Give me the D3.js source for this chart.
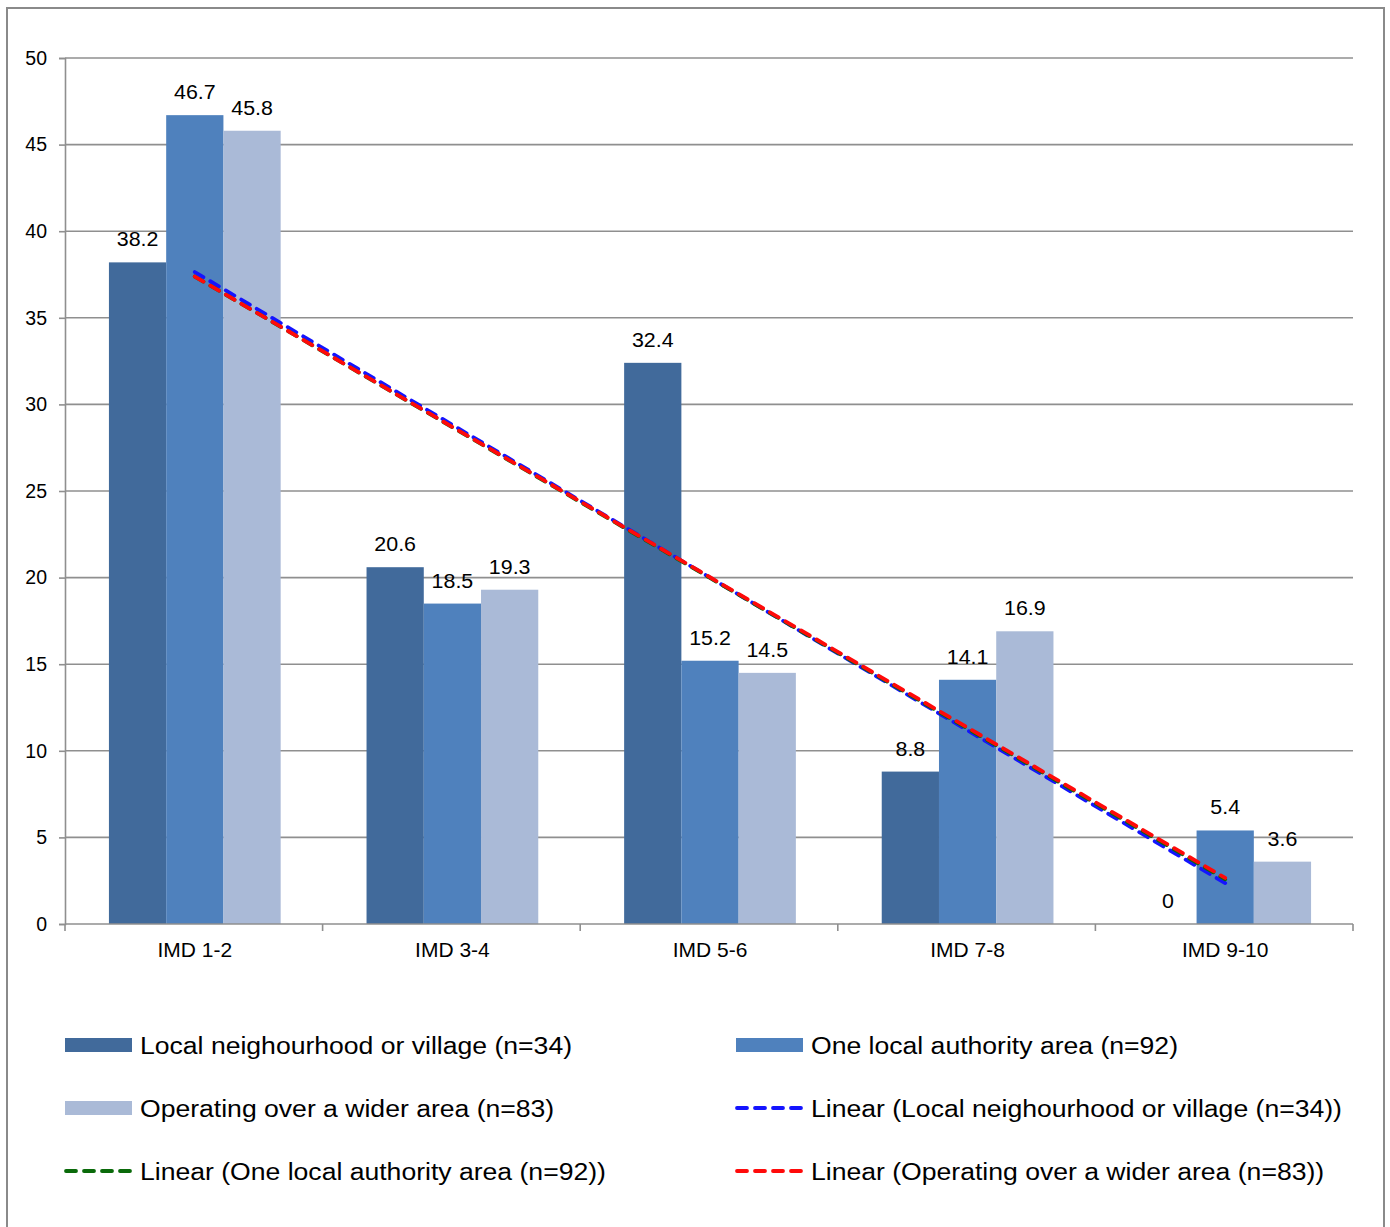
<!DOCTYPE html>
<html>
<head>
<meta charset="utf-8">
<script src="https://cdn.jsdelivr.net/npm/d3@7/dist/d3.min.js"></script>
<style>
  html, body { margin: 0; padding: 0; background: #fff; }
  svg { display: block; }
  text { font-family: "Liberation Sans", Arial, sans-serif; fill: #000; }
</style>
</head>
<body>
<svg id="chart" width="1390" height="1227"></svg>
<script>
// Share of groups by deprivation band (IMD deciles), by operating area
const categories = ["IMD 1-2", "IMD 3-4", "IMD 5-6", "IMD 7-8", "IMD 9-10"];
const seriesNames = [
  "Local neighourhood or village (n=34)",
  "One local authority area (n=92)",
  "Operating over a wider area (n=83)"
];
const localValues = [38.2, 20.6, 32.4, 8.8, 0];
const oneLAValues = [46.7, 18.5, 15.2, 14.1, 5.4];
const widerValues = [45.8, 19.3, 14.5, 16.9, 3.6];
const yTicks = [0, 5, 10, 15, 20, 25, 30, 35, 40, 45, 50];

const barColors = ["#416A9B", "#4F81BD", "#AABAD7"];
const trendColors = ["#1414FF", "#0A6A0A", "#FF0A0A"];
const seriesValues = [localValues, oneLAValues, widerValues];

const svg = d3.select("#chart");

// Plot area
const plotLeft = 65, plotRight = 1353, plotTop = 58, plotBottom = 924;

const x0 = d3.scaleBand().domain(categories).range([plotLeft + 1, plotRight + 1])
  .paddingInner(1 / 3).paddingOuter(1 / 6);
const x1 = d3.scaleBand().domain(d3.range(3)).range([0, x0.bandwidth()]);
const y = d3.scaleLinear().domain([0, 50]).range([plotBottom, plotTop]);
const step = (plotRight - plotLeft) / categories.length;

// Text placed with a slight horizontal widening
function placeText(sel, xf, yf, sx) {
  sel.attr("transform", (d, i) => `translate(${xf(d, i)},${yf(d, i)}) scale(${sx},1)`);
}

// Outer chart frame
svg.append("rect")
  .attr("x", 7).attr("y", 8).attr("width", 1377).attr("height", 1240)
  .attr("fill", "none").attr("stroke", "#8a8a8a").attr("stroke-width", 2);

// Horizontal gridlines
svg.append("g").selectAll("line").data(yTicks.filter(t => t > 0)).join("line")
  .attr("x1", plotLeft).attr("x2", plotRight)
  .attr("y1", d => y(d)).attr("y2", d => y(d))
  .attr("stroke", "#8f8f8f").attr("stroke-width", 1.6);

// Y axis
const yAxis = svg.append("g").attr("transform", `translate(${plotLeft},0)`)
  .call(d3.axisLeft(y).tickValues(yTicks).tickSize(6).tickPadding(12).tickFormat(d3.format("d")));
yAxis.select(".domain").attr("stroke", "#8f8f8f").attr("stroke-width", 1.6);
yAxis.selectAll(".tick line").attr("stroke", "#8f8f8f").attr("stroke-width", 1.6);
yAxis.selectAll(".tick text")
  .style("font-family", '"Liberation Sans", Arial, sans-serif')
  .style("font-size", "19.5px").attr("fill", "#000");

// Bars
const groups = svg.append("g").selectAll("g").data(categories).join("g")
  .attr("transform", d => `translate(${x0(d)},0)`);

groups.selectAll("rect")
  .data((c, i) => seriesValues.map((vals, s) => ({ s, v: vals[i] })))
  .join("rect")
  .attr("x", d => x1(d.s))
  .attr("width", x1.bandwidth())
  .attr("y", d => y(d.v))
  .attr("height", d => y(0) - y(d.v))
  .attr("fill", d => barColors[d.s]);

// Data labels
groups.selectAll("text.val")
  .data((c, i) => seriesValues.map((vals, s) => ({ s, v: vals[i] })))
  .join("text").attr("class", "val")
  .attr("text-anchor", "middle")
  .style("font-size", "20px")
  .text(d => d.v)
  .call(placeText, d => x1(d.s) + x1.bandwidth() / 2, d => y(d.v) - 16, 1.07);

// X axis
svg.append("line")
  .attr("x1", plotLeft).attr("x2", plotRight).attr("y1", plotBottom).attr("y2", plotBottom)
  .attr("stroke", "#8f8f8f").attr("stroke-width", 1.6);
svg.append("g").selectAll("line").data(d3.range(categories.length + 1)).join("line")
  .attr("x1", i => plotLeft + i * step).attr("x2", i => plotLeft + i * step)
  .attr("y1", plotBottom).attr("y2", plotBottom + 7)
  .attr("stroke", "#8f8f8f").attr("stroke-width", 1.6);
svg.append("g").selectAll("text").data(categories).join("text")
  .attr("text-anchor", "middle")
  .style("font-size", "20px")
  .text(d => d)
  .call(placeText, d => x0(d) + x0.bandwidth() / 2, () => 957, 1.05);

// Linear trendlines (least squares over category index 1..n)
function linearFit(vals) {
  const xs = vals.map((_, i) => i + 1);
  const mx = d3.mean(xs), my = d3.mean(vals);
  const slope = d3.sum(xs, (xv, i) => (xv - mx) * (vals[i] - my)) /
                d3.sum(xs, xv => (xv - mx) ** 2);
  const icpt = my - slope * mx;
  return xs.map(xv => icpt + slope * xv);
}
const trendLine = d3.line()
  .x((d, i) => x0(categories[i]) + x0.bandwidth() / 2)
  .y(d => y(d));

seriesValues.forEach((vals, s) => {
  svg.append("path")
    .datum(linearFit(vals))
    .attr("d", trendLine)
    .attr("fill", "none")
    .attr("stroke", trendColors[s])
    .attr("stroke-width", 3.8)
    .attr("stroke-linecap", "round")
    .attr("stroke-dasharray", "10,8");
});

// Legend
const legendItems = [
  { type: "bar", color: barColors[0], label: seriesNames[0], col: 0, row: 0 },
  { type: "bar", color: barColors[1], label: seriesNames[1], col: 1, row: 0 },
  { type: "bar", color: barColors[2], label: seriesNames[2], col: 0, row: 1 },
  { type: "line", color: trendColors[0], label: "Linear (" + seriesNames[0] + ")", col: 1, row: 1 },
  { type: "line", color: trendColors[1], label: "Linear (" + seriesNames[1] + ")", col: 0, row: 2 },
  { type: "line", color: trendColors[2], label: "Linear (" + seriesNames[2] + ")", col: 1, row: 2 }
];
const colX = [65, 736];
const rowY = [1045, 1108, 1171];

const leg = svg.append("g").selectAll("g").data(legendItems).join("g")
  .attr("transform", d => `translate(${colX[d.col]},${rowY[d.row]})`);

leg.filter(d => d.type === "bar").append("rect")
  .attr("x", 0).attr("y", -7).attr("width", 67).attr("height", 14)
  .attr("fill", d => d.color);

leg.filter(d => d.type === "line").append("line")
  .attr("x1", 1).attr("x2", 66).attr("y1", 0).attr("y2", 0)
  .attr("stroke", d => d.color)
  .attr("stroke-width", 3.8)
  .attr("stroke-linecap", "round")
  .attr("stroke-dasharray", "10,8");

leg.append("text")
  .style("font-size", "24.5px")
  .text(d => d.label)
  .call(placeText, () => 75, () => 8.5, 1.085);
</script>
</body>
</html>
